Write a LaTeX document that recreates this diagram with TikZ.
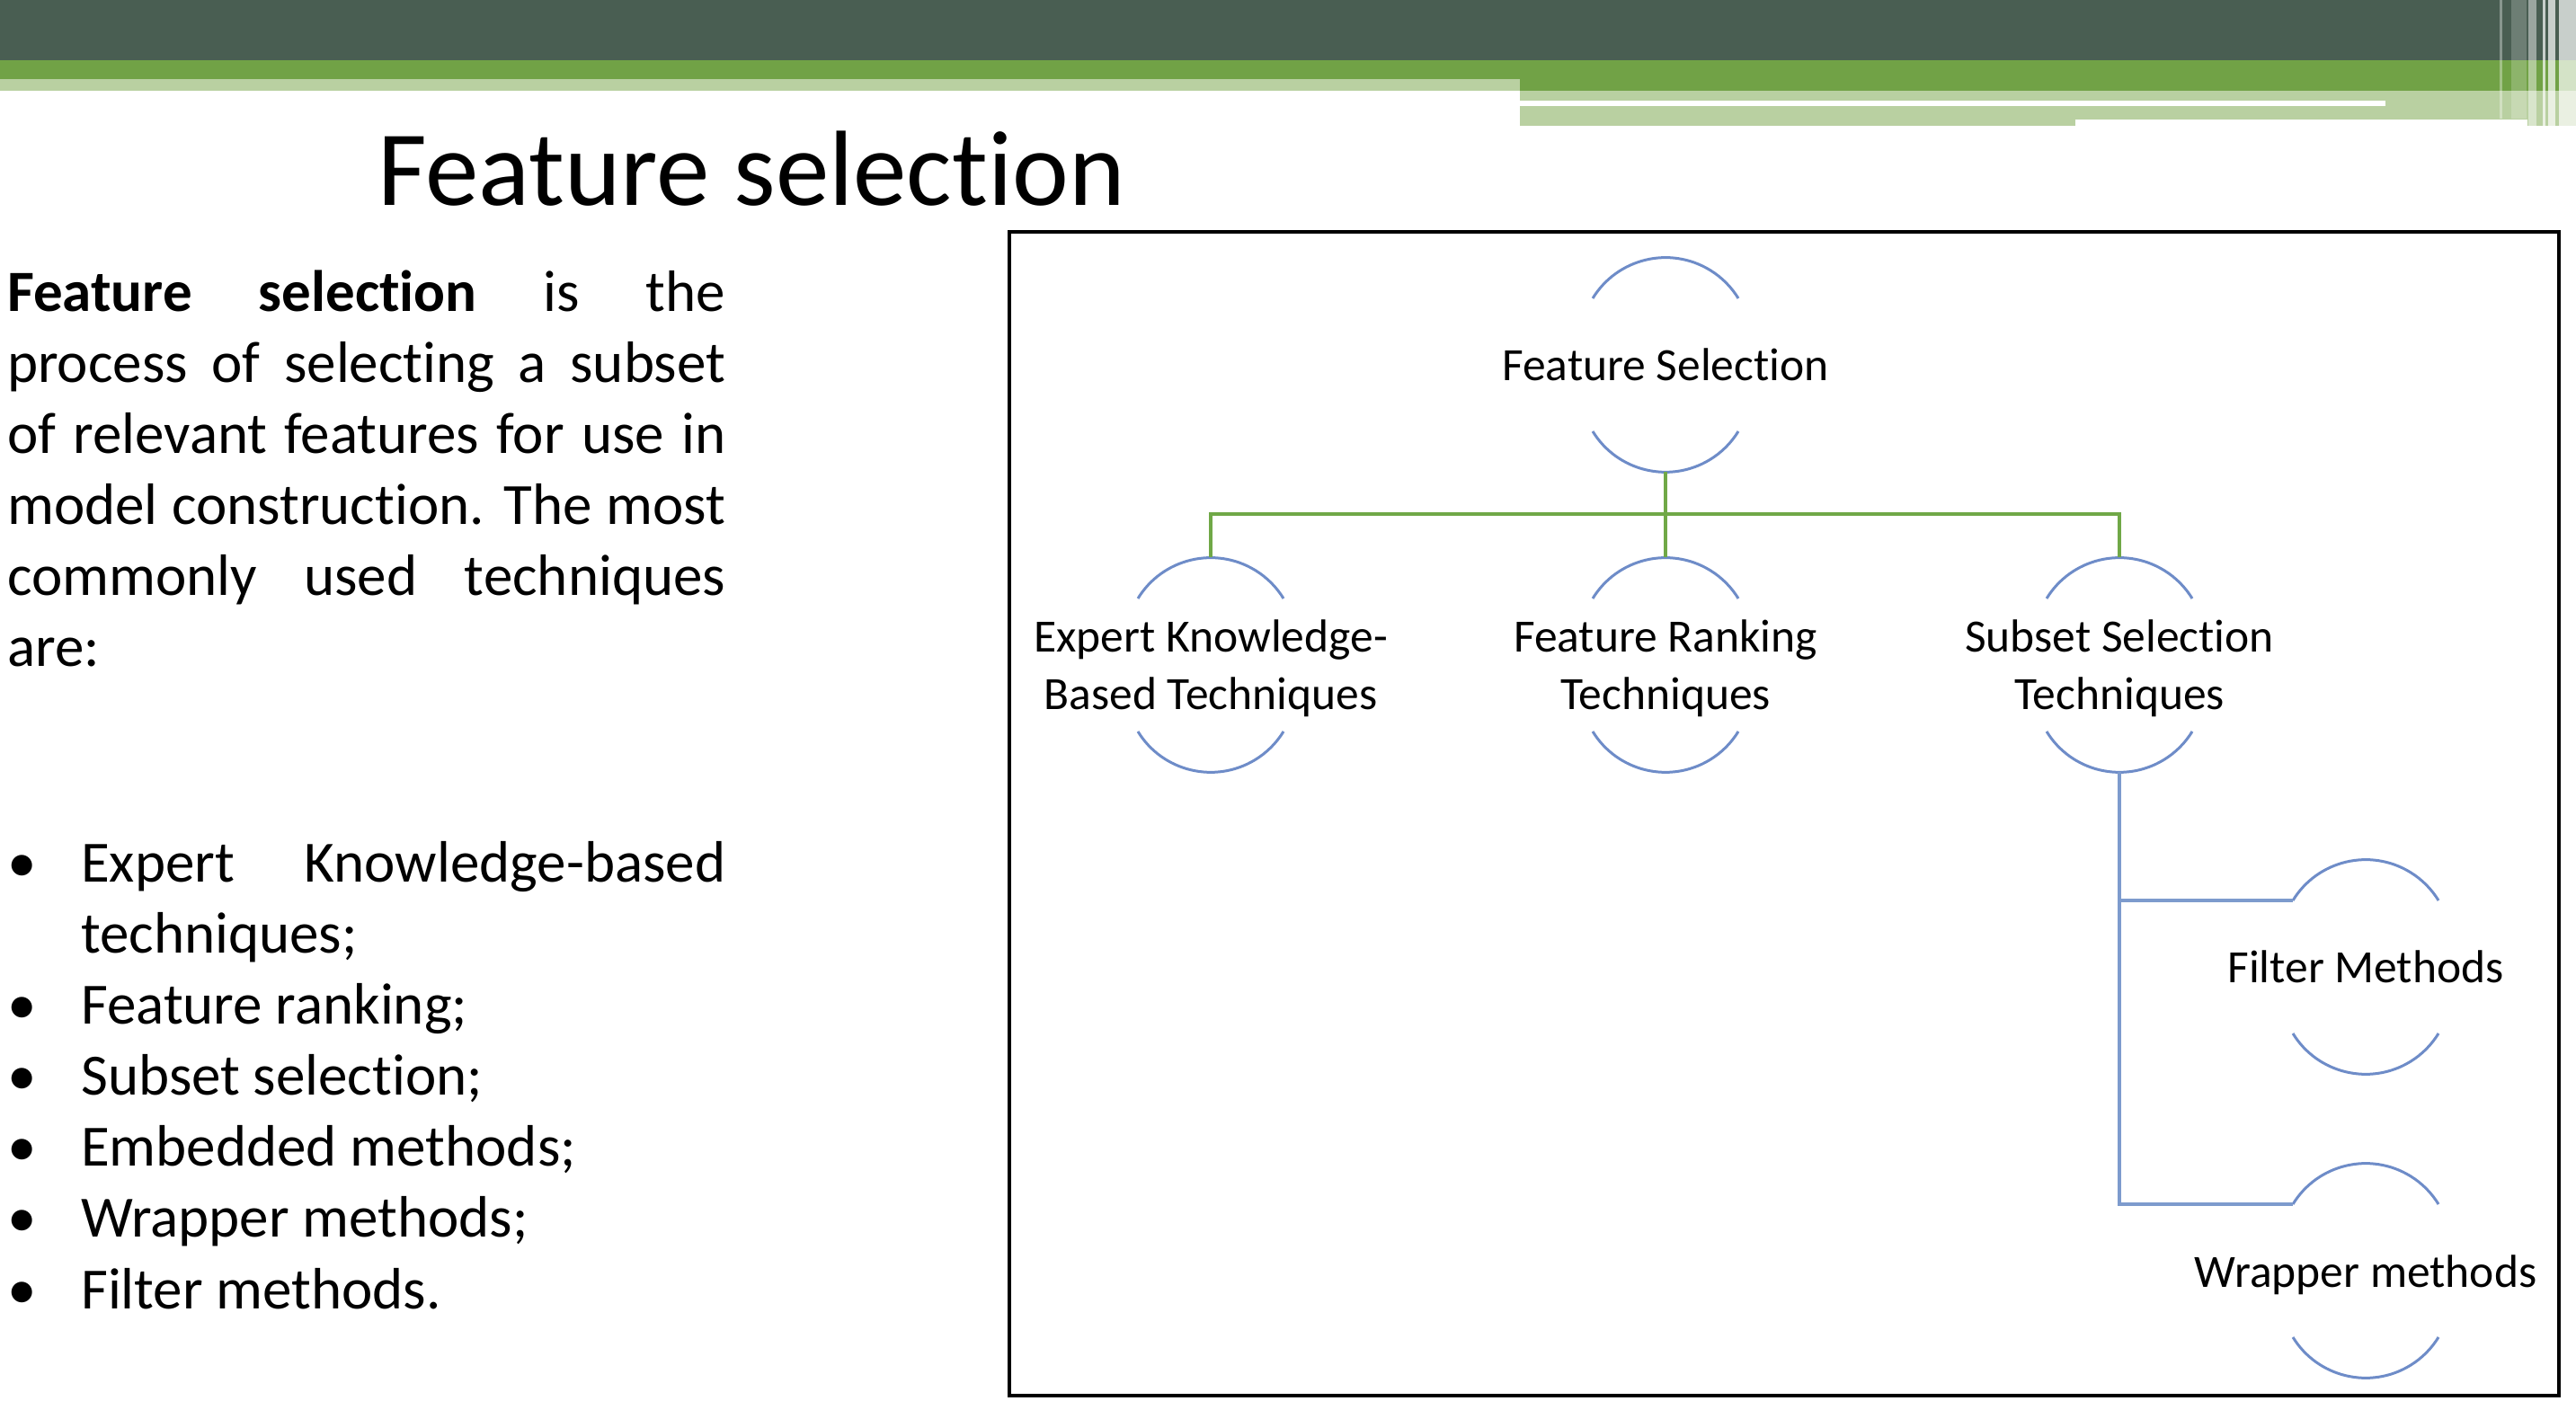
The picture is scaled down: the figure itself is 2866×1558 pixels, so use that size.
\documentclass[tikz,border=0pt]{standalone}
\usepackage{fontspec}
\setmainfont{Carlito}[Ligatures={NoCommon}, RawFeature={-liga;-clig}]
\definecolor{bannerdark}{RGB}{73,94,82}
\definecolor{bannergreen}{RGB}{113,162,70}
\definecolor{bannerlight}{RGB}{185,208,161}
\definecolor{arcblue}{RGB}{110,140,200}
\definecolor{linkblue}{RGB}{125,155,205}
\definecolor{linkgreen}{RGB}{112,168,71}

\tikzset{
  arcline/.style={draw=arcblue, line width=3pt},
  greenlink/.style={draw=linkgreen, line width=4pt},
  bluelink/.style={draw=linkblue, line width=4pt},
  lbl/.style={inner sep=0pt, anchor=base, font=\fontsize{51.5}{64}\selectfont},
  bodyline/.style={inner sep=0pt, anchor=base west, font=\fontsize{65}{79}\selectfont},
  bulletmark/.style={inner sep=0pt, anchor=base west, font=\fontsize{65}{79}\selectfont},
}

% two circular arcs above and below a label, plus handy anchor points
\newcommand\ringarcs[1]{%
  \draw[arcline] ([shift={(-81,74)}]#1) arc[start angle=148.5, end angle=31.5, radius=95];
  \draw[arcline] ([shift={(-81,-74)}]#1) arc[start angle=211.5, end angle=328.5, radius=95];
  \coordinate (#1-top) at ([yshift=119.5]#1);
  \coordinate (#1-bot) at ([yshift=-119.5]#1);
  \coordinate (#1-tl) at ([shift={(-81,74)}]#1);
}

\begin{document}
\begin{tikzpicture}[x=1pt,y=1pt]
\useasboundingbox (0,0) rectangle (2866,1558);

% ---- header band ----
\fill[bannerdark] (0,1558) rectangle (2866,1491);
\fill[bannergreen] (0,1491) rectangle (2866,1457);
\fill[bannerlight] (0,1470) rectangle (1691,1457);
\fill[bannerlight] (1691,1457) rectangle (2866,1418);
\fill[white] (1691,1446) rectangle (2654,1440);
\fill[white] (2309,1425) rectangle (2812,1418);
\fill[white,opacity=0.35] (2781,1558) rectangle (2784,1426);
\fill[white,opacity=0.2] (2794,1558) rectangle (2811,1426);
\fill[white,opacity=0.45] (2813,1558) rectangle (2822,1418);
\fill[white,opacity=0.7] (2829,1558) rectangle (2832,1418);
\fill[white,opacity=0.7] (2835,1558) rectangle (2843,1418);
\fill[white,opacity=0.7] (2847,1558) rectangle (2866,1418);

% ---- title ----
\node[inner sep=0pt, anchor=base west, font=\fontsize{119}{140}\selectfont] (title) at (420,1329) {Feature selection};

% ---- left-hand text ----
\node[bodyline] (p1) at (8,1211) {\makebox[799pt][s]{\textbf{Feature selection} is the}};
\node[bodyline] (p2) at (8,1132) {\makebox[799pt][s]{process of selecting a subset}};
\node[bodyline] (p3) at (8,1053) {\makebox[799pt][s]{of relevant features for use in}};
\node[bodyline] (p4) at (8,974) {\makebox[799pt][s]{model construction. The most}};
\node[bodyline] (p5) at (8,895) {\makebox[799pt][s]{commonly used techniques}};
\node[bodyline] (p6) at (8,816) {are:};

\foreach \yy/\nm in {576/b1,418/b2,339/b3,260/b4,181/b5,102/b6}
  \node[bulletmark] (\nm) at (8,\yy) {•};
\node[bodyline] (l1) at (90,576) {\makebox[717pt][s]{Expert Knowledge-based}};
\node[bodyline] (l1b) at (90,497) {techniques;};
\node[bodyline] (l2) at (90,418) {Feature ranking;};
\node[bodyline] (l3) at (90,339) {Subset selection;};
\node[bodyline] (l4) at (90,260) {Embedded methods;};
\node[bodyline] (l5) at (90,181) {Wrapper methods;};
\node[bodyline] (l6) at (90,102) {Filter methods.};

% ---- hierarchy panel ----
\draw[line width=3.5pt] (1123,1300) rectangle (2847,5);

\coordinate (root) at (1853,1152);
\coordinate (expert) at (1347,818);
\coordinate (rank) at (1853,818);
\coordinate (subset) at (2358,818);
\coordinate (filter) at (2632,482);
\coordinate (wrapper) at (2632,144);

\ringarcs{root}
\ringarcs{expert}
\ringarcs{rank}
\ringarcs{subset}
\ringarcs{filter}
\ringarcs{wrapper}

\node[lbl] (root-label) at (1853,1134) {Feature Selection};
\node[lbl] (expert-label) at (1347,832) {\begin{tabular}[t]{@{}c@{}}Expert Knowledge-\\Based Techniques\end{tabular}};
\node[lbl] (rank-label) at (1853,832) {\begin{tabular}[t]{@{}c@{}}Feature Ranking\\Techniques\end{tabular}};
\node[lbl] (subset-label) at (2358,832) {\begin{tabular}[t]{@{}c@{}}Subset Selection\\Techniques\end{tabular}};
\node[lbl] (filter-label) at (2632,464) {Filter Methods};
\node[lbl] (wrapper-label) at (2632,126) {Wrapper methods};

% green links from the root to the three technique groups
\coordinate (bus) at (1853,986);
\draw[greenlink] (root-bot) -- (bus);
\draw[greenlink] (expert-top) -- (expert-top |- bus) -- (subset-top |- bus) -- (subset-top);
\draw[greenlink] (rank-top) -- (bus);

% blue links from subset selection to its methods
\draw[bluelink] (subset-bot) -- (subset-bot |- wrapper-tl) -- (wrapper-tl);
\draw[bluelink] (subset-bot |- filter-tl) -- (filter-tl);
\end{tikzpicture}
\end{document}
